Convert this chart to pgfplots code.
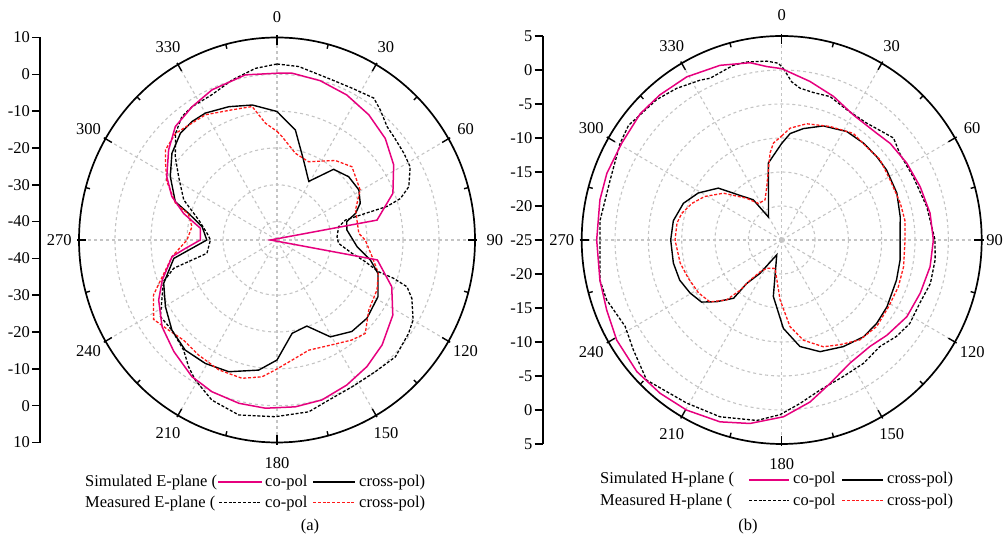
\documentclass[border=0pt]{standalone}
\usepackage{fontspec}
\setmainfont{Liberation Serif}
\usepackage{pgfplots}
\pgfplotsset{compat=1.18}
\usepackage{pgfplotstable}

\definecolor{simpink}{RGB}{230,0,126}
\definecolor{measred}{RGB}{255,25,25}
\definecolor{gridgray}{RGB}{196,196,196}

% E-plane (a), angle in degrees clockwise from top, level in dB
\pgfplotstableread{
ang db
0 0.3
5.3 0.5
15.5 -0.1
26.2 -1.1
36.9 -2.5
47.5 -4.2
57.8 -6.7
68.5 -10.4
79 -16.7
90 -46.8
101 -16.6
111.7 -10.7
122.4 -6.9
134.3 -4.2
144 -2.5
153.8 -1.1
164 0.2
173.6 0.6
184 0.8
193.4 0.6
203.7 0
212.5 -1
223.4 -3.3
233.5 -5.3
243.6 -8.3
251.1 -11.3
261.2 -15.5
264.8 -19.4
270 -23.7
278.5 -23.5
285.5 -18.1
292 -13.5
299.3 -9.9
309.1 -6.2
317.5 -3.2
326.9 -1.8
336.1 -0.4
348.9 0.7
360 0.3
}\Ecosim

\pgfplotstableread{
ang db
0 2.8
7.3 2.5
19.4 1.1
26.8 1.2
34.9 2.0
39.1 0.5
44.8 -1.6
49.1 -2.1
56.2 -2.6
61.7 -3.0
68.4 -5.6
71.8 -8.9
73.4 -13.1
73.6 -19.4
74.1 -25.2
78.1 -27.5
87 -28.3
93 -27.9
99.8 -23.9
103.5 -19.8
107 -15.5
107.8 -11
109.4 -6.7
113 -4.3
119.9 -1.4
124.8 -0.5
134 0.7
142.7 0
152.5 0
161.7 0.8
169.3 2.5
180.6 3
192.6 3.7
202.6 2.1
210.8 -0.7
215.5 -2.7
220.9 -5.4
230 -6.9
237.3 -6.5
250.3 -11.5
255 -15.3
259.5 -25.2
270 -26.5
275.3 -25.5
284 -22.6
292.8 -16.9
302.2 -12.7
308.7 -8.8
315.8 -4.6
321.8 -2.3
326.9 -1.8
335.3 -1.6
344 0.2
352.7 2.0
360 2.8
}\Ecomeas

\pgfplotstableread{
ang db
0 -10.1
9.7 -14.7
18.8 -22.1
29 -26.8
39.3 -20.2
49.2 -18.7
59.1 -18.5
66.6 -19.8
71.7 -22
75.5 -25
82 -25.4
94.6 -22.7
101.8 -18.5
108 -15.5
118.7 -13
130.4 -12.2
140.1 -12.6
150.6 -14.8
160.5 -20.2
170.6 -19.3
180 -12.4
188.2 -9.3
200.5 -6.8
210.7 -6
220.5 -5.7
230 -6.9
239.7 -9.1
249.5 -11.4
260.1 -15.9
270 -25.5
279.8 -23.9
286.4 -19.4
290.2 -14.9
300.2 -10.7
308.9 -7.5
317.2 -5.5
323.8 -5.1
330 -5.2
339.7 -6.4
349.4 -7.7
360 -10.1
}\Excsim

\pgfplotstableread{
ang db
0 -15.5
2.9 -16.9
12.2 -20.9
22.4 -22
36.9 -18
46.3 -16.2
59.5 -18.2
69.4 -21.7
85.5 -22.2
90 -20.5
99.7 -18.2
107.9 -15.4
116 -14.1
126.7 -13.2
136 -9.7
142.6 -10.8
151.8 -12.7
163.6 -13.8
172.7 -12.1
180.8 -9.7
186.4 -7.6
194.5 -6.2
204.6 -6.2
214.8 -6.9
223.6 -7.4
230.9 -6.2
237.8 -4.5
246.5 -7.6
252.6 -11.6
261.2 -15.5
270 -20
278.7 -21.1
286 -19.4
289.5 -15.1
297.5 -10.5
303.9 -7.7
308.3 -5.5
315.8 -4.6
329.7 -5.6
340.5 -7.5
349.2 -8.1
354.2 -13.1
360 -15.5
}\Excmeas

% H-plane (b)
\pgfplotstableread{
ang db
0 0.2
10.3 -1.3
20.2 -2.5
30.3 -3.7
42.2 -3.8
48.9 -3.4
58.9 -3.1
69.4 -2.8
80 -2.4
90 -2.25
100 -2.4
110.6 -2.8
121 -3.1
131.6 -3.9
139.8 -4.5
150.5 -4.2
161 -2.7
169.9 -0.8
179.4 1.0
190 2.4
199.1 3.3
209.7 3.8
219 4.0
228.3 4.1
239.3 3.8
248.6 3.2
257.8 2.9
270 2.75
282.2 2.9
290.5 3.0
300.6 2.9
311.2 3.2
319.4 3.1
329.3 2.9
340.2 2.3
349.7 1.5
355 0.6
360 0.2
}\Hcosim

\pgfplotstableread{
ang db
0.6 0.2
3.7 -1.7
7 -2.5
12.3 -2.8
19 -2.7
27 -3.5
36.5 -3.6
48.2 -2.5
54.4 -3.2
64.8 -3.2
77.3 -2.7
90 -2.0
97.2 -1.8
106 -1.8
114.1 -2.3
122.6 -2.2
129.5 -2.7
136.8 -3.5
145.9 -3.1
155.3 -2.9
165.4 -2.2
173.5 -0.8
180.6 0.7
188 1.8
199.6 2.6
210.7 2.9
224.5 3.9
234 2.5
241.6 1.7
251.5 2.7
257.8 2.9
264 2.4
270 2.25
276 2.4
288.9 2.2
300.4 3.1
306.3 3.5
310.9 3.1
317.7 2.9
324.8 2.3
332.5 1.5
335.7 1.1
344.2 1.7
348.7 1.7
355.1 1.4
358.9 1.0
360.6 0.2
}\Hcomeas

\pgfplotstableread{
ang db
0 -10.8
4.6 -9.3
11.2 -8.3
20.4 -7.1
31.5 -6.3
40.8 -6.2
49.2 -6.2
56.8 -6.2
68.2 -6.4
79.2 -6.9
90 -7.25
99.3 -7.0
108.9 -6.8
121.9 -6.4
130.8 -6.2
139.2 -6.2
149.5 -6.8
160.7 -7.6
170.1 -9.1
178.9 -12
188.6 -16.6
198.8 -22.7
213.6 -19.1
219.4 -16.7
220.1 -13.8
227 -11.7
232.8 -9.9
240.4 -9.2
248.9 -8.6
258.2 -8.4
270 -8.35
279.9 -8.5
290.1 -9.3
298.9 -10.7
308.7 -12.8
318 -16.4
324.2 -17.7
329.5 -21.1
350 -13.5
357.9 -11.5
360 -10.8
}\Hxcsim

\pgfplotstableread{
ang db
0 -9.7
4.4 -8.5
12.4 -7.5
23.5 -6.8
34.4 -6.0
42.9 -6.3
51.3 -6.1
61.6 -6.5
73.1 -6.4
81.1 -6.3
90 -6.5
102.1 -6.3
111.5 -6.2
121.5 -6.2
131.7 -5.9
141.4 -6.2
150.4 -7.3
158.3 -8.1
167.5 -9.9
174.4 -12.2
181.6 -16.2
193.4 -20.7
208 -20.3
214.7 -19.3
218.8 -17.4
220.2 -15.3
223.2 -12.9
229.8 -10.9
238 -10.3
248.2 -9.9
257.4 -9.4
270 -9.0
279 -9.1
284.6 -9.5
291.8 -10.5
299 -11.8
308.3 -13.9
319.3 -16.9
327 -18.6
337 -18.6
343.9 -16.9
352.2 -12.1
355 -10.7
360 -9.7
}\Hxcmeas

\newcommand\labfont{\fontsize{16.5}{19}\selectfont}

% polar frame: centre x, centre y, x radius, y radius, grid circles as fractions,
% radius factor of the 90 label
\newcommand\polarframe[6]{%
  \begin{scope}[shift={(#1pt,#2pt)}, x=#3pt, y=#4pt]
    \foreach \f in {#5}
      \draw[gridgray, dashed, line width=1.1pt] (0,0) circle[radius=\f];
    \foreach \a in {0,30,...,330}
      \draw[gridgray, dashed, line width=1.1pt] (0,0) -- ({sin(\a)},{cos(\a)});
    \draw[black, line width=1.7pt] (0,0) circle[radius=1];
    \foreach \a in {0,30,...,330}
      \draw[line width=1.4pt] ({1.01*sin(\a)},{1.01*cos(\a)}) -- ({0.963*sin(\a)},{0.963*cos(\a)});
    \foreach \a in {15,45,...,345}
      \draw[line width=1.4pt] ({sin(\a)},{cos(\a)}) -- ({0.978*sin(\a)},{0.978*cos(\a)});
    \foreach \a in {0,30,60,120,150,...,330}
      \node[font=\labfont, inner sep=0pt] at ({1.10*sin(\a)},{1.10*cos(\a)}) {\a};
    \node[font=\labfont, inner sep=0pt] at (#6,0) {90};
  \end{scope}}

\pgfplotsset{
  scalepanel/.style={
    anchor=origin, axis x line=none, axis y line*=left, clip=false,
    y axis line style={line width=1.7pt},
    ytick style={line width=1.5pt, black},
    major tick length=8pt, tick align=outside,
    yticklabel style={font=\labfont, inner sep=2pt},
  },
}

\begin{document}
\begin{tikzpicture}
\useasboundingbox (0pt,0pt) rectangle (1007pt,537pt);

% ---------- (a) E-plane ----------
\polarframe{277}{297}{198}{202.5}{0.0909,0.2727,0.4545,0.6364,0.8182}{1.10}
\begin{axis}[scalepanel, at={(277pt,297pt)},
  x=3.6pt, y=3.682pt, xmin=-65.8, xmax=56, ymin=-55, ymax=55,
  ytick={-55,-45,-35,-25,-15,-5,5,15,25,35,45,55},
  yticklabels={10,0,-10,-20,-30,-40,-40,-30,-20,-10,0,10}]
\addplot[black, line width=1.4pt] table[x expr={(\thisrow{db}+45)*sin(\thisrow{ang})}, y expr={(\thisrow{db}+45)*cos(\thisrow{ang})}] {\Excsim};
\addplot[measred, line width=1.3pt, dash pattern=on 3pt off 1.8pt] table[x expr={(\thisrow{db}+45)*sin(\thisrow{ang})}, y expr={(\thisrow{db}+45)*cos(\thisrow{ang})}] {\Excmeas};
\addplot[black, line width=1.3pt, dash pattern=on 3pt off 1.8pt] table[x expr={(\thisrow{db}+45)*sin(\thisrow{ang})}, y expr={(\thisrow{db}+45)*cos(\thisrow{ang})}] {\Ecomeas};
\addplot[simpink, line width=1.5pt] table[x expr={(\thisrow{db}+45)*sin(\thisrow{ang})}, y expr={(\thisrow{db}+45)*cos(\thisrow{ang})}] {\Ecosim};
\end{axis}

% ---------- (b) H-plane ----------
\polarframe{781.7}{297}{200}{204}{0.1667,0.3333,0.5,0.6667,0.8333}{1.065}
\fill[gridgray] (781.7pt,297pt) circle[radius=2.2pt];
\begin{axis}[scalepanel, at={(781.7pt,297pt)},
  x=6.667pt, y=6.8pt, xmin=-35.85, xmax=31, ymin=-30, ymax=30,
  ytick={-30,-25,...,30},
  yticklabels={5,0,-5,-10,-15,-20,-25,-20,-15,-10,-5,0,5}]
\addplot[black, line width=1.4pt] table[x expr={(\thisrow{db}+25)*sin(\thisrow{ang})}, y expr={(\thisrow{db}+25)*cos(\thisrow{ang})}] {\Hxcsim};
\addplot[measred, line width=1.3pt, dash pattern=on 3pt off 1.8pt] table[x expr={(\thisrow{db}+25)*sin(\thisrow{ang})}, y expr={(\thisrow{db}+25)*cos(\thisrow{ang})}] {\Hxcmeas};
\addplot[black, line width=1.3pt, dash pattern=on 3pt off 1.8pt] table[x expr={(\thisrow{db}+25)*sin(\thisrow{ang})}, y expr={(\thisrow{db}+25)*cos(\thisrow{ang})}] {\Hcomeas};
\addplot[simpink, line width=1.5pt] table[x expr={(\thisrow{db}+25)*sin(\thisrow{ang})}, y expr={(\thisrow{db}+25)*cos(\thisrow{ang})}] {\Hcosim};
\end{axis}

% ---------- legends ----------
\begin{scope}[every node/.style={font=\labfont, inner sep=0pt, anchor=west}]
  % (a)
  \node at (85pt,54.3pt) {Simulated E-plane (};
  \draw[simpink, line width=1.6pt] (218pt,55pt) -- (262pt,55pt);
  \node at (265pt,54.3pt) {co-pol};
  \draw[black, line width=1.6pt] (313pt,55pt) -- (355pt,55pt);
  \node at (359pt,54.3pt) {cross-pol)};
  \node at (85pt,33.7pt) {Measured E-plane (};
  \draw[black, line width=1.3pt, dash pattern=on 3pt off 1.8pt] (219pt,34.4pt) -- (262pt,34.4pt);
  \node at (265pt,33.7pt) {co-pol};
  \draw[measred, line width=1.3pt, dash pattern=on 3pt off 1.8pt] (313pt,34.4pt) -- (355pt,34.4pt);
  \node at (359pt,33.7pt) {cross-pol)};
  \node[anchor=center] at (310pt,10.5pt) {(a)};
  % (b)
  \node at (600pt,57pt) {Simulated H-plane (};
  \draw[simpink, line width=1.6pt] (749pt,57pt) -- (789pt,57pt);
  \node at (793pt,57pt) {co-pol};
  \draw[black, line width=1.6pt] (842pt,57pt) -- (883pt,57pt);
  \node at (887pt,57pt) {cross-pol)};
  \node at (600pt,35.3pt) {Measured H-plane (};
  \draw[black, line width=1.4pt, dash pattern=on 3pt off 1.8pt] (749pt,36.4pt) -- (789pt,36.4pt);
  \node at (793pt,35.3pt) {co-pol};
  \draw[measred, line width=1.4pt, dash pattern=on 3pt off 1.8pt] (842pt,36.4pt) -- (883pt,36.4pt);
  \node at (887pt,35.3pt) {cross-pol)};
  \node[anchor=center] at (748pt,10.5pt) {(b)};
\end{scope}
\end{tikzpicture}
\end{document}
